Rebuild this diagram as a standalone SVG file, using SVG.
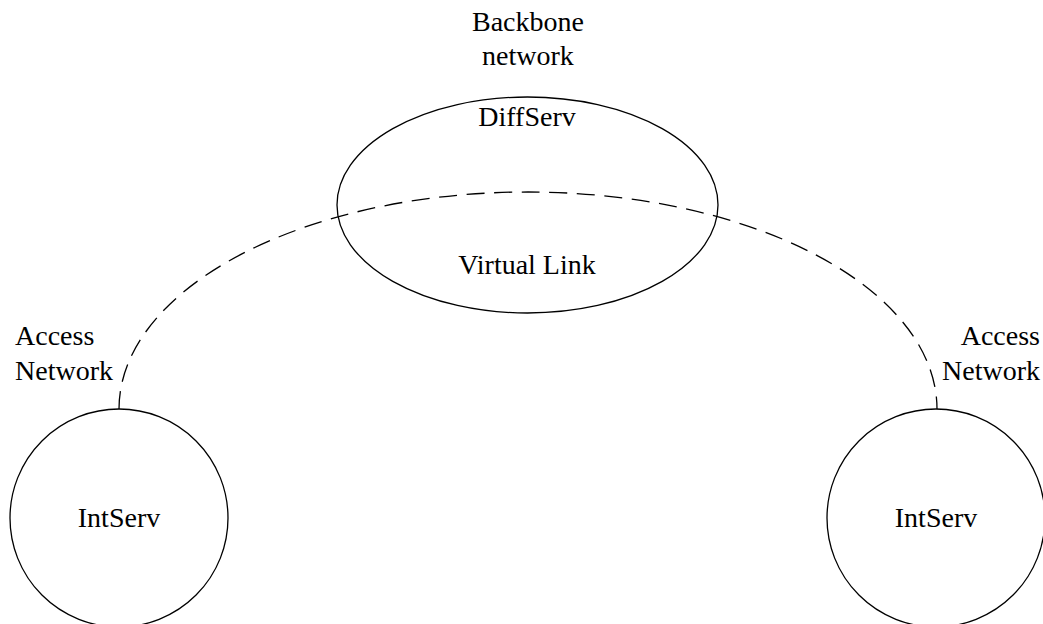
<svg xmlns="http://www.w3.org/2000/svg" width="1043" height="624" viewBox="0 0 1043 624">
  <style>
    .shape { fill: none; stroke: #000; stroke-width: 1.3; }
    .link { fill: none; stroke: #000; stroke-width: 1.3; stroke-dasharray: 18 9.6; }
    text { font-family: "Liberation Serif", "Times New Roman", serif; font-size: 28px; fill: #000; }
    .c { text-anchor: middle; }
    .r { text-anchor: end; }
  </style>
  <rect width="1043" height="624" fill="#fff"/>

  <!-- virtual link between the two access networks -->
  <g id="connectors">
    <path class="link" d="M 119 409 A 409 217 0 0 1 937 409"/>
  </g>

  <g id="backbone">
    <ellipse class="shape" cx="527.5" cy="205" rx="190.5" ry="108"/>
    <text class="c" x="528" y="31">Backbone</text>
    <text class="c" x="528" y="65">network</text>
    <text class="c" x="527" y="126">DiffServ</text>
    <text class="c" x="527" y="274">Virtual Link</text>
  </g>

  <g id="access-left">
    <circle class="shape" cx="119" cy="518" r="109"/>
    <text x="15" y="345">Access</text>
    <text x="15" y="380">Network</text>
    <text class="c" x="119" y="527">IntServ</text>
  </g>

  <g id="access-right">
    <circle class="shape" cx="936" cy="518" r="109"/>
    <text class="r" x="1040" y="345">Access</text>
    <text class="r" x="1040" y="380">Network</text>
    <text class="c" x="936" y="527">IntServ</text>
  </g>
</svg>
